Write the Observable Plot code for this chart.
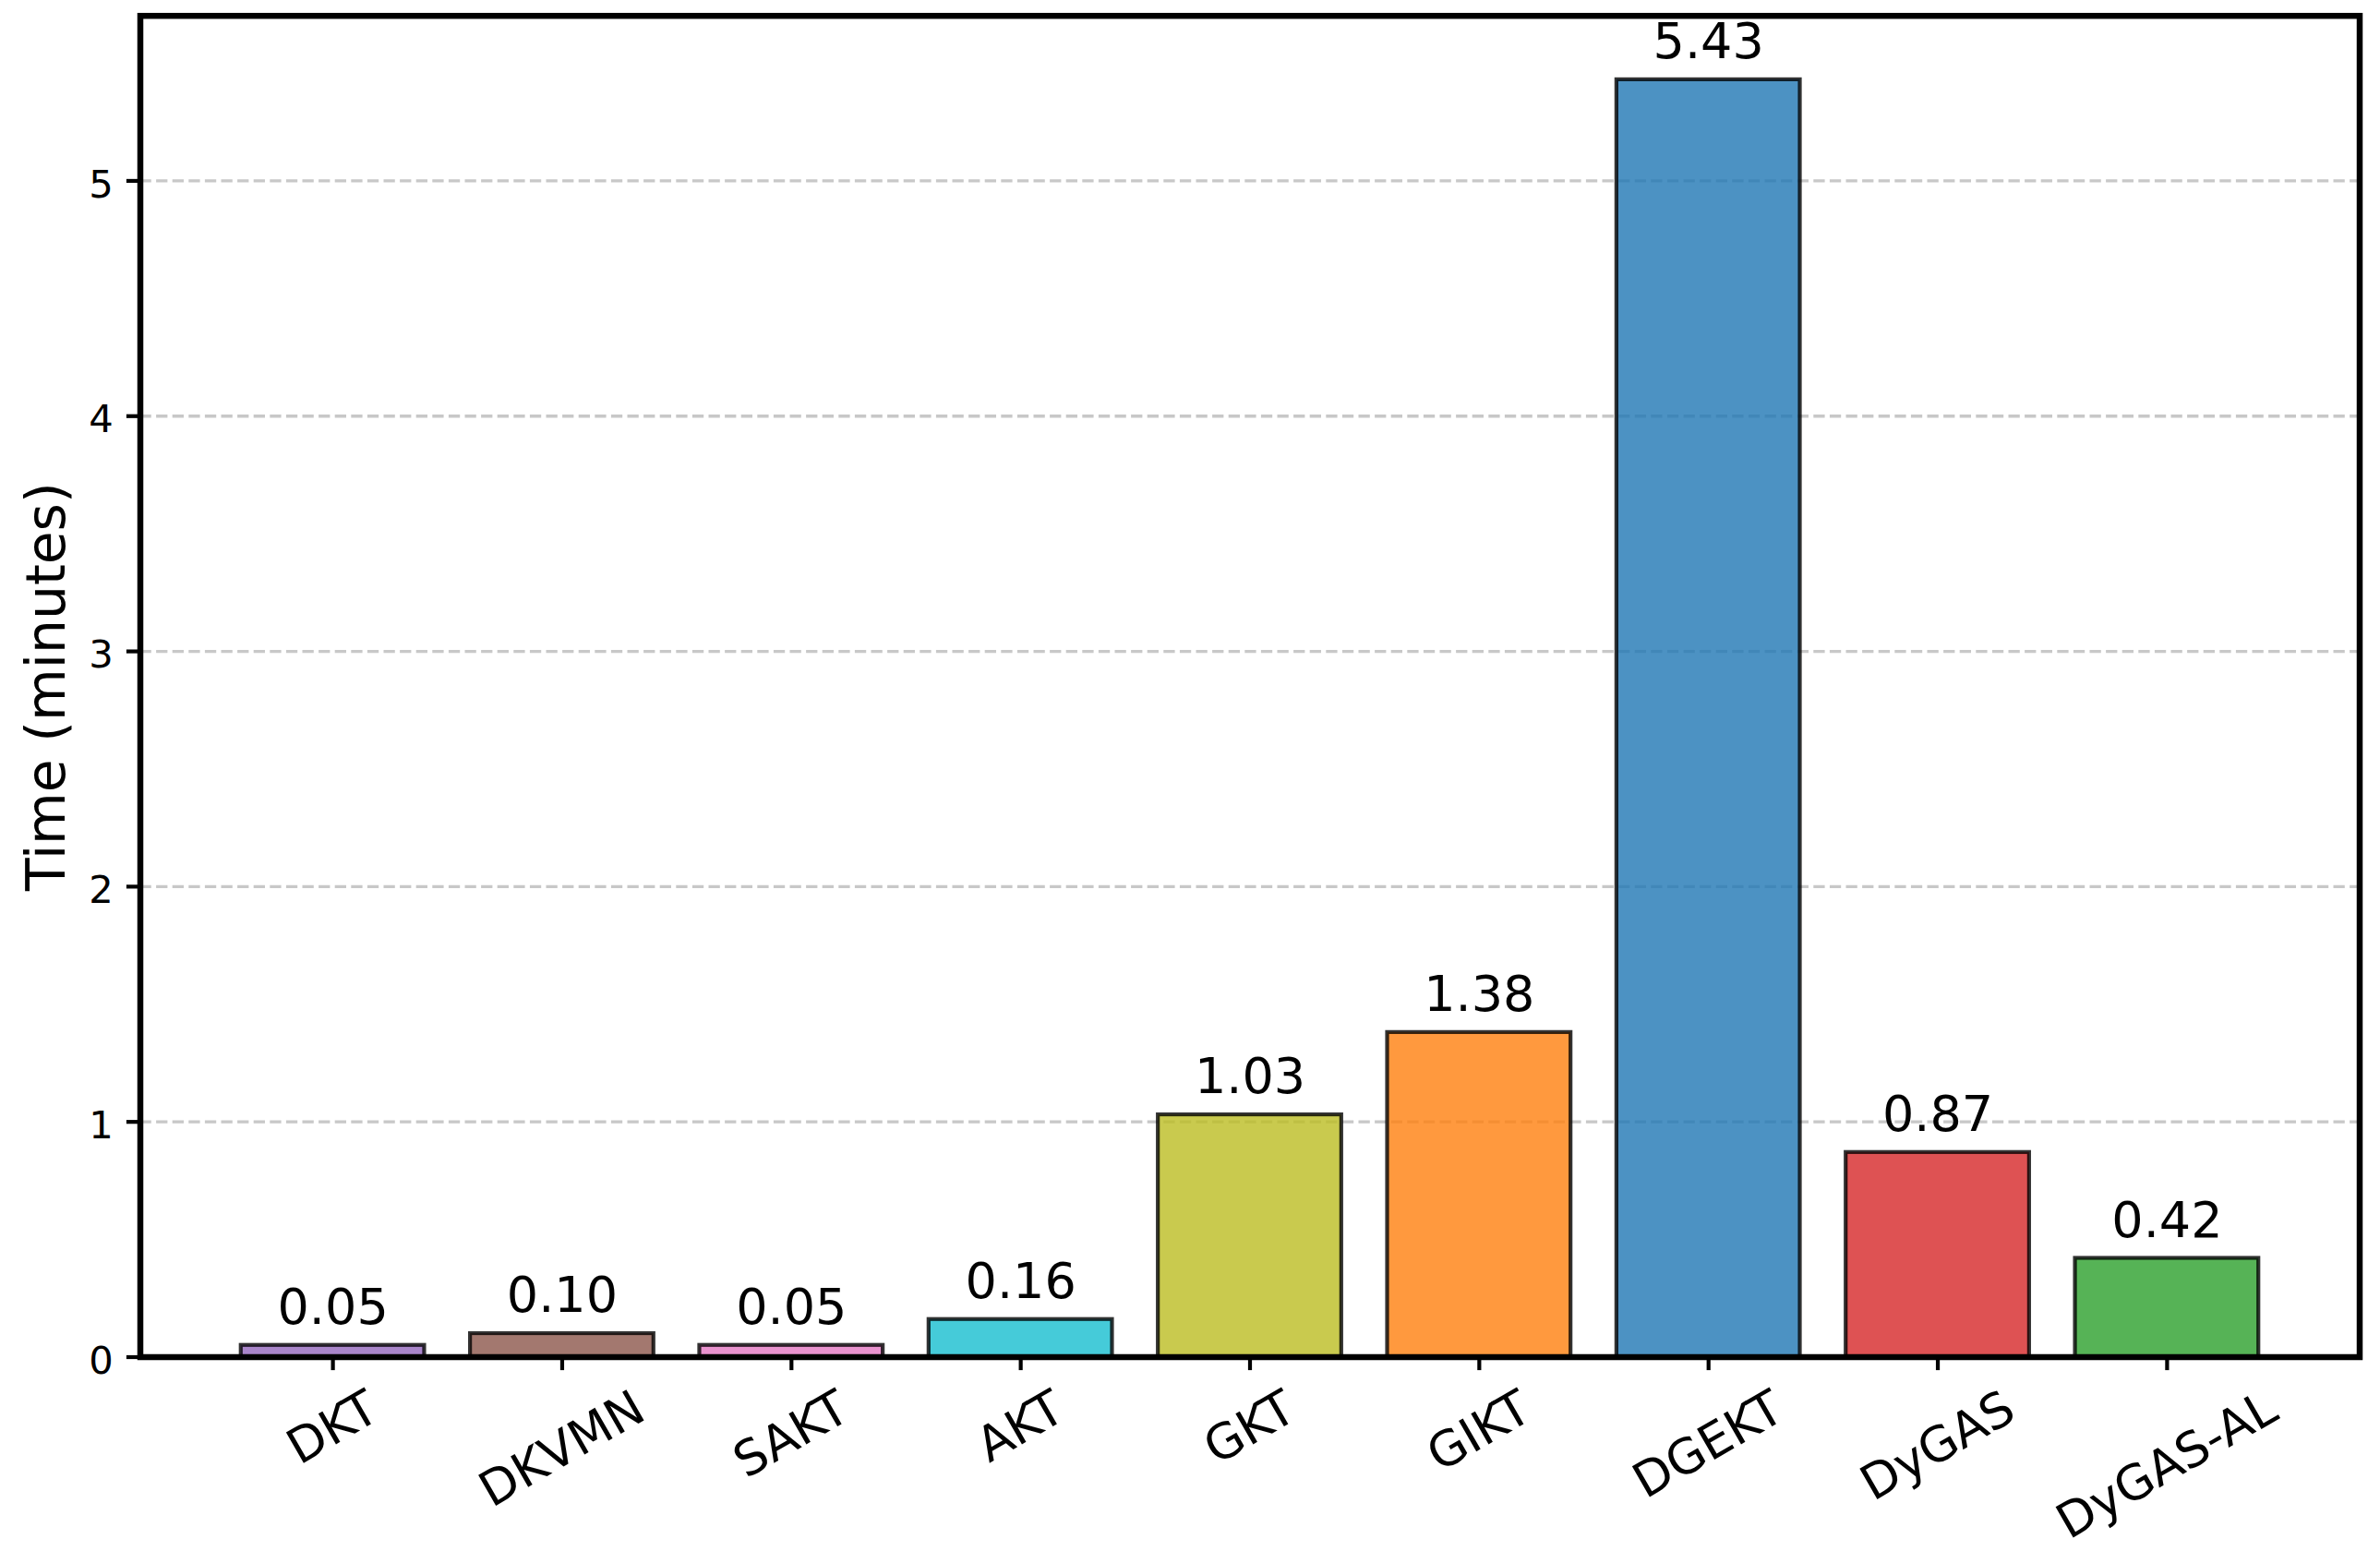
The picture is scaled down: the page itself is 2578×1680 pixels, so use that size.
<!DOCTYPE html>
<html><head><meta charset="utf-8">
<script src="https://cdn.jsdelivr.net/npm/d3@7"></script>
<script src="https://cdn.jsdelivr.net/npm/@observablehq/plot@0.6"></script>
<style>html,body{margin:0;padding:0;background:#fff;} #chart{width:2578px;height:1680px;}</style>
</head><body><div id="chart"></div>
<script>
const models = ["DKT","DKVMN","SAKT","AKT","GKT","GIKT","DGEKT","DyGAS","DyGAS-AL"];
const times = [0.05,0.10,0.05,0.16,1.03,1.38,5.43,0.87,0.42];
const colors = ["#9467bd","#8c564b","#e377c2","#17becf","#bcbd22","#ff7f0e","#1f77b4","#d62728","#2ca02c"];
const yTicks = [0,1,2,3,4,5];
const yLabel = "Time (minutes)";

const data = models.map((m,i)=>({model:m, time:times[i]}));

const W=2578, H=1680, mL=151.5, mR=22.5, mT=16.7, mB=210.5;
const yMax = d3.max(times)*1.05;
const xFont = 52.5;
const ctx = document.createElement("canvas").getContext("2d");
ctx.font = `${xFont}px "DejaVu Sans"`;
const s30 = 0.5, c30 = Math.sqrt(3)/2;
const labelMarks = models.map(m => {
  const w = ctx.measureText(m).width;
  const h = 0.968*xFont;
  const off = 29.2 + (w*s30 + h*c30)/2;
  return Plot.text([m], {x: d=>d, frameAnchor:"bottom", dy: off, rotate:-30,
    textAnchor:"middle", lineAnchor:"middle", fontSize:xFont, fill:"black"});
});

const chart = Plot.plot({
  width: W, height: H,
  marginLeft: mL, marginRight: mR, marginTop: mT, marginBottom: mB,
  style: {fontFamily: '"DejaVu Sans"', background: "white", color: "black", overflow: "visible"},
  x: {type:"band", domain: models, paddingInner: 0.2, paddingOuter: 0.44, align: 0.5, round: false, axis: null},
  y: {domain: [0, yMax]},
  color: {domain: models, range: colors},
  marks: [
    Plot.ruleY(yTicks.filter(d=>d>0), {y: d=>d, stroke:"#c8c8c8", strokeWidth:3.33, strokeDasharray:"12.3,5.3"}),
    Plot.barY(data, {x:"model", y:"time", fill:"model", fillOpacity:0.8, stroke:"black", strokeOpacity:0.8, strokeWidth:4.2}),
    Plot.text(data, {x:"model", y:"time", text: d=>d.time.toFixed(2), dy:-23.4, lineAnchor:"bottom", textAnchor:"middle", fontSize:54, fill:"black"}),
    Plot.frame({stroke:"black", strokeWidth:6.5}),
    Plot.axisY(yTicks, {tickSize:14.6, strokeWidth:4.2, tickFormat: () => "", label: null}),
    Plot.text(yTicks, {y: d=>d, frameAnchor:"left", dx:-29.2, dy:4.3, textAnchor:"end", lineAnchor:"middle", fontSize:41.7, fill:"black"}),
    Plot.axisX({tickSize:14.6, strokeWidth:4.2, tickFormat: () => "", label: null}),
    ...labelMarks,
    Plot.text([yLabel], {frameAnchor:"left", dx: 69-151.5, rotate:-90, textAnchor:"middle", lineAnchor:"bottom", fontSize:58.3, fill:"black"})
  ]
});
document.getElementById("chart").appendChild(chart);
</script>
</body></html>
